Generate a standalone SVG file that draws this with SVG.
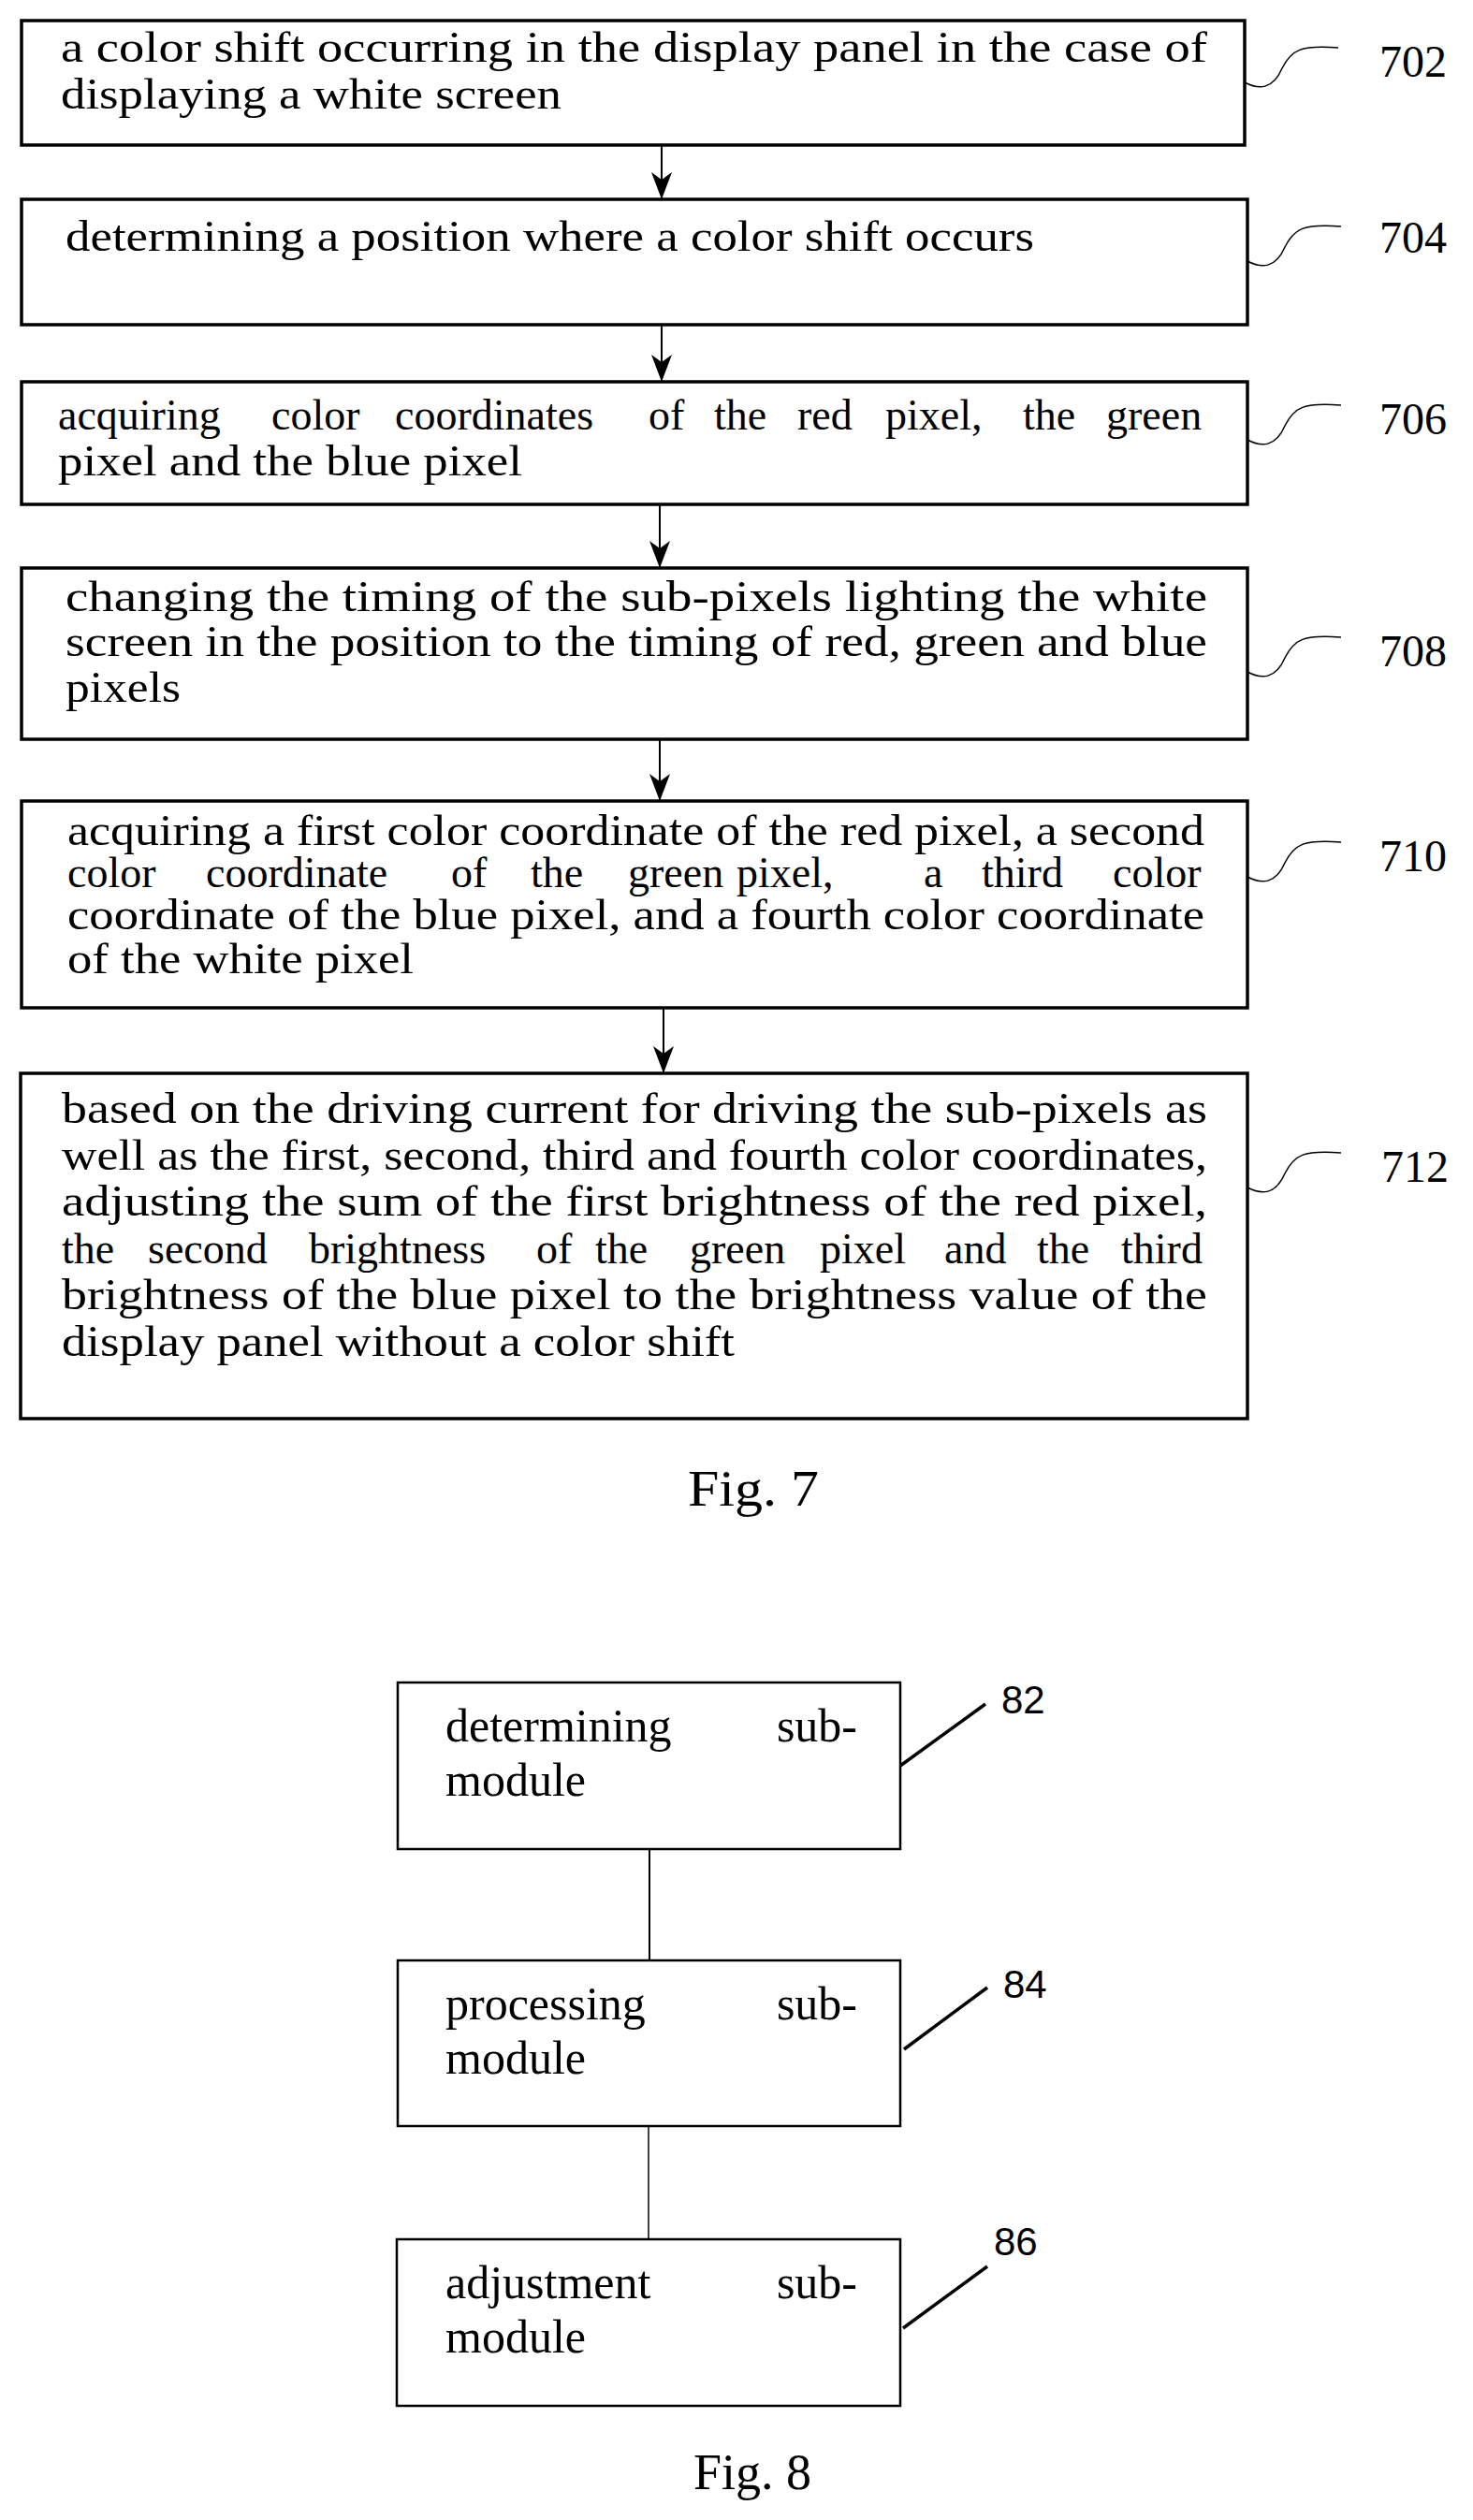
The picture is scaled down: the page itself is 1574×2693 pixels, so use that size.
<svg xmlns="http://www.w3.org/2000/svg" width="1574" height="2693" viewBox="0 0 1574 2693">
<style>
.b{fill:#fff;stroke:#000;stroke-width:3.5}
.b8{fill:#fff;stroke:#000;stroke-width:2.5}
.t{font-family:"Liberation Serif",serif;font-size:46px;fill:#000}
.t8{font-family:"Liberation Serif",serif;font-size:50px;fill:#000}
.n{font-family:"Liberation Serif",serif;font-size:48px;fill:#000}
.n8{font-family:"Liberation Sans",sans-serif;font-size:42px;fill:#000}
.c{stroke:#000;stroke-width:2;fill:none}
.s{stroke:#000;stroke-width:1.5;fill:none}
.l{stroke:#000;stroke-width:3.5}
</style>
<defs><marker id="a" markerWidth="30" markerHeight="22" refX="29" refY="11" orient="auto" markerUnits="userSpaceOnUse" viewBox="0 0 30 22"><path d="M0,0 L29,11 L0,22 L8,11 Z" fill="#000"/></marker></defs>
<g id="connectors">
<line class="c" x1="707" y1="155" x2="707" y2="213" marker-end="url(#a)"/>
<line class="c" x1="707" y1="347" x2="707" y2="408" marker-end="url(#a)"/>
<line class="c" x1="705" y1="539" x2="705" y2="607" marker-end="url(#a)"/>
<line class="c" x1="705" y1="790" x2="705" y2="856" marker-end="url(#a)"/>
<line class="c" x1="709" y1="1077" x2="709" y2="1147" marker-end="url(#a)"/>
<line class="c" x1="694" y1="1976" x2="694" y2="2095"/>
<line class="c" x1="693" y1="2272" x2="693" y2="2393" style="stroke-width:1.5"/>
</g>
<g id="n702"><rect class="b" x="23" y="22" width="1307" height="133"/>
<text class="t" x="65" y="66" textLength="1225" lengthAdjust="spacingAndGlyphs">a color shift occurring in the display panel in the case of</text>
<text class="t" x="65" y="116" textLength="535" lengthAdjust="spacingAndGlyphs">displaying a white screen</text>
<path class="s" d="M1330,88 c15,8 30,8 40,-15 c10,-20 20,-25 60,-22"/>
<text class="n" x="1474" y="82" textLength="72" lengthAdjust="spacingAndGlyphs">702</text></g>
<g id="n704"><rect class="b" x="23" y="213" width="1310" height="134"/>
<text class="t" x="70" y="268" textLength="1035" lengthAdjust="spacingAndGlyphs">determining a position where a color shift occurs</text>
<path class="s" d="M1333,279 c15,8 30,8 40,-15 c10,-20 20,-25 60,-22"/>
<text class="n" x="1474" y="270" textLength="72" lengthAdjust="spacingAndGlyphs">704</text></g>
<g id="n706"><rect class="b" x="23" y="408" width="1310" height="131"/>
<text class="t" y="459"><tspan x="62">acquiring</tspan> <tspan x="290">color</tspan> <tspan x="422">coordinates</tspan> <tspan x="693">of</tspan> <tspan x="763">the</tspan> <tspan x="852">red</tspan> <tspan x="946">pixel,</tspan> <tspan x="1093">the</tspan> <tspan x="1182">green</tspan></text>
<text class="t" x="62" y="508" textLength="496" lengthAdjust="spacingAndGlyphs">pixel and the blue pixel</text>
<path class="s" d="M1333,470 c15,8 30,8 40,-15 c10,-20 20,-25 60,-22"/>
<text class="n" x="1474" y="464" textLength="72" lengthAdjust="spacingAndGlyphs">706</text></g>
<g id="n708"><rect class="b" x="23" y="607" width="1310" height="183"/>
<text class="t" x="70" y="653" textLength="1220" lengthAdjust="spacingAndGlyphs">changing the timing of the sub-pixels lighting the white</text>
<text class="t" x="70" y="701" textLength="1220" lengthAdjust="spacingAndGlyphs">screen in the position to the timing of red, green and blue</text>
<text class="t" x="70" y="750" textLength="123" lengthAdjust="spacingAndGlyphs">pixels</text>
<path class="s" d="M1333,718 c15,8 30,8 40,-15 c10,-20 20,-25 60,-22"/>
<text class="n" x="1474" y="712" textLength="72" lengthAdjust="spacingAndGlyphs">708</text></g>
<g id="n710"><rect class="b" x="23" y="856" width="1310" height="221"/>
<text class="t" x="72" y="903" textLength="1215" lengthAdjust="spacingAndGlyphs">acquiring a first color coordinate of the red pixel, a second</text>
<text class="t" y="948"><tspan x="72">color</tspan> <tspan x="220">coordinate</tspan> <tspan x="482">of</tspan> <tspan x="567">the</tspan> <tspan x="671">green</tspan> <tspan x="787">pixel,</tspan> <tspan x="987">a</tspan> <tspan x="1049">third</tspan> <tspan x="1189">color</tspan></text>
<text class="t" x="72" y="993" textLength="1215" lengthAdjust="spacingAndGlyphs">coordinate of the blue pixel, and a fourth color coordinate</text>
<text class="t" x="72" y="1040" textLength="370" lengthAdjust="spacingAndGlyphs">of the white pixel</text>
<path class="s" d="M1333,937 c15,8 30,8 40,-15 c10,-20 20,-25 60,-22"/>
<text class="n" x="1474" y="931" textLength="72" lengthAdjust="spacingAndGlyphs">710</text></g>
<g id="n712"><rect class="b" x="22" y="1147" width="1311" height="369"/>
<text class="t" x="66" y="1200" textLength="1224" lengthAdjust="spacingAndGlyphs">based on the driving current for driving the sub-pixels as</text>
<text class="t" x="66" y="1250" textLength="1224" lengthAdjust="spacingAndGlyphs">well as the first, second, third and fourth color coordinates,</text>
<text class="t" x="66" y="1299" textLength="1224" lengthAdjust="spacingAndGlyphs">adjusting the sum of the first brightness of the red pixel,</text>
<text class="t" y="1350"><tspan x="66">the</tspan> <tspan x="158">second</tspan> <tspan x="330">brightness</tspan> <tspan x="573">of</tspan> <tspan x="636">the</tspan> <tspan x="737">green</tspan> <tspan x="876">pixel</tspan> <tspan x="1009">and</tspan> <tspan x="1108">the</tspan> <tspan x="1198">third</tspan></text>
<text class="t" x="66" y="1399" textLength="1224" lengthAdjust="spacingAndGlyphs">brightness of the blue pixel to the brightness value of the</text>
<text class="t" x="66" y="1449" textLength="719" lengthAdjust="spacingAndGlyphs">display panel without a color shift</text>
<path class="s" d="M1333,1269 c15,8 30,8 40,-15 c10,-20 20,-25 60,-22"/>
<text class="n" x="1476" y="1263" textLength="72" lengthAdjust="spacingAndGlyphs">712</text></g>
<text class="n" x="735" y="1609" textLength="140" lengthAdjust="spacingAndGlyphs" style="font-size:54px">Fig. 7</text>
<g id="n82"><rect class="b8" x="425" y="1798" width="537" height="178"/>
<text class="t8" x="476" y="1861">determining</text><text class="t8" x="916" y="1861" text-anchor="end">sub-</text>
<text class="t8" x="476" y="1919">module</text>
<line class="l" x1="962" y1="1887" x2="1053" y2="1821"/>
<text class="n8" x="1070" y="1831">82</text></g>
<g id="n84"><rect class="b8" x="425" y="2095" width="537" height="177"/>
<text class="t8" x="476" y="2158">processing</text><text class="t8" x="916" y="2158" text-anchor="end">sub-</text>
<text class="t8" x="476" y="2216">module</text>
<line class="l" x1="966" y1="2190" x2="1055" y2="2124"/>
<text class="n8" x="1072" y="2135">84</text></g>
<g id="n86"><rect class="b8" x="424" y="2393" width="538" height="178"/>
<text class="t8" x="476" y="2456">adjustment</text><text class="t8" x="916" y="2456" text-anchor="end">sub-</text>
<text class="t8" x="476" y="2514">module</text>
<line class="l" x1="965" y1="2488" x2="1055" y2="2422"/>
<text class="n8" x="1062" y="2410">86</text></g>
<text class="t8" x="741" y="2660" style="font-size:54px">Fig. 8</text>
</svg>
